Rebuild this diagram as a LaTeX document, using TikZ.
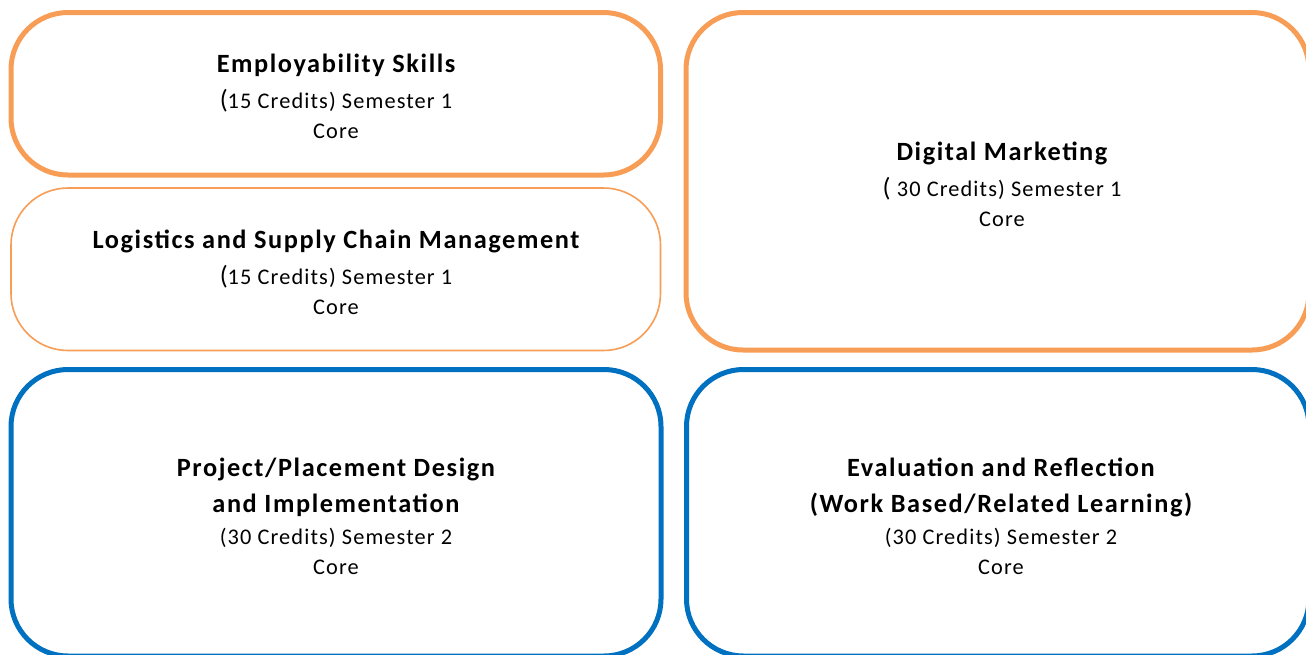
\documentclass[tikz,border=0pt]{standalone}
\usepackage{fontspec}
\setmainfont{Carlito}
\newfontfamily\headfont[LetterSpace=6]{Carlito}
\newfontfamily\bodyfont[LetterSpace=5]{Carlito}
\definecolor{modorange}{HTML}{F79D56}
\definecolor{modblue}{HTML}{0070C0}
% module title line and the larger opening parenthesis
\newcommand{\modtitle}[1]{{\headfont\bfseries\fontsize{19.75}{22.5}\selectfont #1}}
\newcommand{\bigparen}{{\fontsize{19.75}{22.5}\selectfont(}}
\tikzset{
  modbox/.style={line width=3.75pt, rounded corners=42.75pt},
  thinbox/.style={line width=1.2pt, rounded corners=42.75pt},
  orangebox/.style={draw=modorange},
  bluebox/.style={draw=modblue},
  modtext/.style={align=center, inner sep=0pt,
    font=\bodyfont\fontsize{16.75}{22.5}\selectfont}
}
\begin{document}
\begin{tikzpicture}[x=0.75pt,y=-0.75pt]
\useasboundingbox (0,0) rectangle (1306,654);
\clip (0,0) rectangle (1306,654);

% semester 1 modules
\draw[modbox,orangebox]  (11,12.5) rectangle (660.5,175);
\draw[thinbox,orangebox] (11,188) rectangle (660.5,350.5);
\draw[modbox,orangebox]  (686,12.5) rectangle (1309,350);
% semester 2 modules
\draw[modbox,bluebox]    (11,369.5) rectangle (661,656);
\draw[modbox,bluebox]    (686.5,369.5) rectangle (1309,656);

\node[modtext] (employ) at (336,96) {\modtitle{Employability Skills}\\[4.5pt]
  \bigparen15 Credits) Semester 1\\ Core};
\node[modtext] (logist) at (336,272) {\modtitle{Logistics and Supply Chain Management}\\[4.5pt]
  \bigparen15 Credits) Semester 1\\ Core};
\node[modtext] (digital) at (1002,184) {\modtitle{Digital Marketing}\\[4.5pt]
  \bigparen\ 30 Credits) Semester 1\\ Core};
\node[modtext] (project) at (336,516) {\modtitle{Project/Placement Design}\\[4.5pt]
  \modtitle{and Implementation}\\[1.5pt]
  (30 Credits) Semester 2\\ Core};
\node[modtext] (evaluation) at (1001,516) {\modtitle{Evaluation and Reflection}\\[4.5pt]
  \modtitle{(Work Based/Related Learning)}\\[1.5pt]
  (30 Credits) Semester 2\\ Core};
\end{tikzpicture}
\end{document}
